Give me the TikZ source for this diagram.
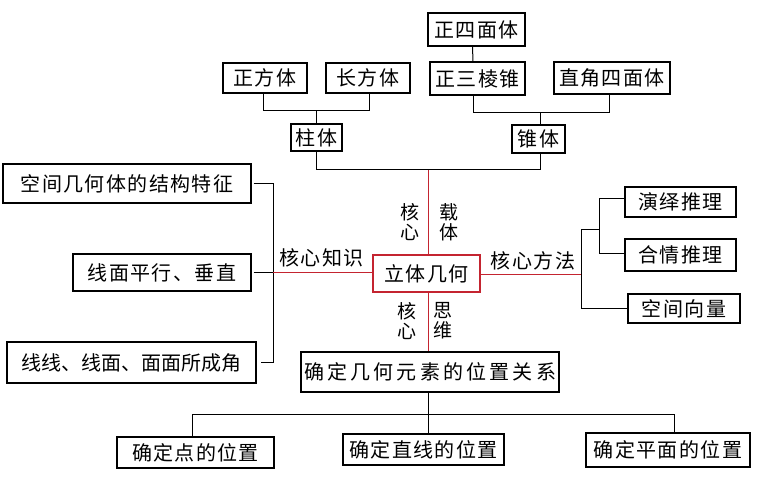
\documentclass[tikz,border=0pt]{standalone}
\usepackage{fontspec}
\setmainfont{Noto Sans CJK SC}[LetterSpace=7]
\definecolor{redline}{RGB}{196,36,48}
\begin{document}
\begin{tikzpicture}[x=1pt,y=-1pt,
  box/.style={draw=black,line width=1.1pt,inner sep=0pt,anchor=center,font=\fontsize{20}{22}\selectfont},
  lbl/.style={inner sep=0pt,font=\fontsize{20}{22}\selectfont},
  vlbl/.style={inner sep=0pt,align=center,font=\fontsize{19}{20}\selectfont},
  conn/.style={draw=black,line width=1pt},
  rconn/.style={draw=redline,line width=1pt}]
\useasboundingbox[fill=white] (0,0) rectangle (764,478);

% top groups
\node[box,minimum width=97pt,minimum height=33pt] (zsmt) at (476.5,29.5) {正四面体};
\node[box,minimum width=95pt,minimum height=33pt] (zsl) at (477.5,78.5) {正三棱锥};
\node[box,minimum width=116pt,minimum height=32pt] (zjsm) at (612,78) {直角四面体};
\node[box,minimum width=53pt,minimum height=28pt] (zhuiti) at (538.5,139) {锥体};
\node[box,minimum width=84pt,minimum height=30pt] (zfang) at (265,78) {正方体};
\node[box,minimum width=84pt,minimum height=30pt] (cfang) at (368,78) {长方体};
\node[box,minimum width=51pt,minimum height=27pt] (zhuti) at (316.5,137.5) {柱体};

% left
\node[box,minimum width=248pt,minimum height=39pt] (kj1) at (127,183.5) {空间几何体的结构特征};
\node[box,minimum width=178pt,minimum height=37pt] (kj2) at (162,272.5) {线面平行、垂直};
\node[box,minimum width=249pt,minimum height=41pt] (kj3) at (131.5,362.5) {\addfontfeature{LetterSpace=0}线线、线面、面面所成角};

% center
\node[box,draw=redline,minimum width=107pt,minimum height=37pt] (lt) at (426.5,273.5) {立体几何};

% right
\node[box,minimum width=111pt,minimum height=30pt] (yy) at (680.5,202) {演绎推理};
\node[box,minimum width=111pt,minimum height=32pt] (hq) at (680.5,255) {合情推理};
\node[box,minimum width=112pt,minimum height=29pt] (kx) at (684,308.5) {空间向量};

% bottom
\node[box,minimum width=258pt,minimum height=40pt] (qd) at (430,372) {\addfontfeature{LetterSpace=16}确定几何元素的位置关系};
\node[box,minimum width=157pt,minimum height=31pt] (d1) at (195.5,452.5) {确定点的位置};
\node[box,minimum width=161pt,minimum height=31pt] (d2) at (423.5,449.5) {确定直线的位置};
\node[box,minimum width=164pt,minimum height=34pt] (d3) at (668,450) {确定平面的位置};

% labels
\node[lbl] (lzs) at (321.5,258) {核心知识};
\node[lbl] (lff) at (533,261) {核心方法};
\node[vlbl] (lhx1) at (410,222) {核\\心};
\node[vlbl] (lzt) at (449,222) {载\\体};
\node[vlbl] (lhx2) at (407,321) {核\\心};
\node[vlbl] (lsw) at (443,321) {思\\维};

% coordinates for buses
\coordinate (busA) at (0,111);
\coordinate (busB) at (0,113);
\coordinate (busC) at (0,170);
\coordinate (busD) at (0,415);
\coordinate (vL) at (273,0);
\coordinate (vR) at (581,0);
\coordinate (vR2) at (599,0);
\coordinate (jB) at (428.5,170);

% top-left group
\draw[conn] ([xshift=-2pt]zfang.south) -- ([xshift=-2pt]zfang.south |- busA) -- ([xshift=1pt]cfang.south |- busA) -- ([xshift=1pt]cfang.south);
\draw[conn] (zhuti.north) -- (zhuti.north |- busA);
% top-right group
\draw[conn] ([xshift=-4pt]zsmt.south) -- ([xshift=-4.5pt]zsl.north);
\draw[conn] ([xshift=-4.5pt]zsl.south) -- ([xshift=-4.5pt]zsl.south |- busB) -- ([xshift=-3pt]zjsm.south |- busB) -- ([xshift=-3pt]zjsm.south);
\draw[conn] ([xshift=1.5pt]zhuiti.north) -- ([xshift=1.5pt]zhuiti.north |- busB);
% join bus
\draw[conn] (zhuti.south) -- (zhuti.south |- busC) -- ([xshift=1.5pt]zhuiti.south |- busC) -- ([xshift=1.5pt]zhuiti.south);
\draw[rconn] ([xshift=2pt]lt.north) -- (jB);

% left tree
\draw[conn] ([xshift=2pt]kj1.east) -- (kj1.east -| vL) -- (kj3.east -| vL) -- ([xshift=4pt]kj3.east);
\draw[conn] ([xshift=2pt]kj2.east) -- (kj2.east -| vL);
\draw[rconn] (kj2.east -| vL) -- (lt.west |- kj2.east);

% right tree
\draw[rconn] (lt.east |- 0,275) -- (vR |- 0,275);
\coordinate (rj) at (581,230);
\draw[conn] (vR |- rj) -- (vR |- kx.west) -- (kx.west);
\draw[conn] (rj) -- (vR2 |- rj);
\draw[conn] ([yshift=3.5pt]yy.west) -- ([yshift=3.5pt]yy.west -| vR2) -- ([yshift=1.5pt]hq.west -| vR2) -- ([yshift=1.5pt]hq.west);

% bottom
\draw[rconn] ([xshift=2pt]lt.south) -- ([xshift=2pt]lt.south |- qd.north);
\draw[conn] ([xshift=-2pt]qd.south) -- ([xshift=-2pt]qd.south |- busD);
\draw[conn] ([xshift=-3.5pt]d1.north) -- ([xshift=-3.5pt]d1.north |- busD) -- ([xshift=6pt]d3.north |- busD) -- ([xshift=6pt]d3.north);
\draw[conn] ([xshift=4.5pt]d2.north) -- ([xshift=4.5pt]d2.north |- busD);
\end{tikzpicture}
\end{document}
